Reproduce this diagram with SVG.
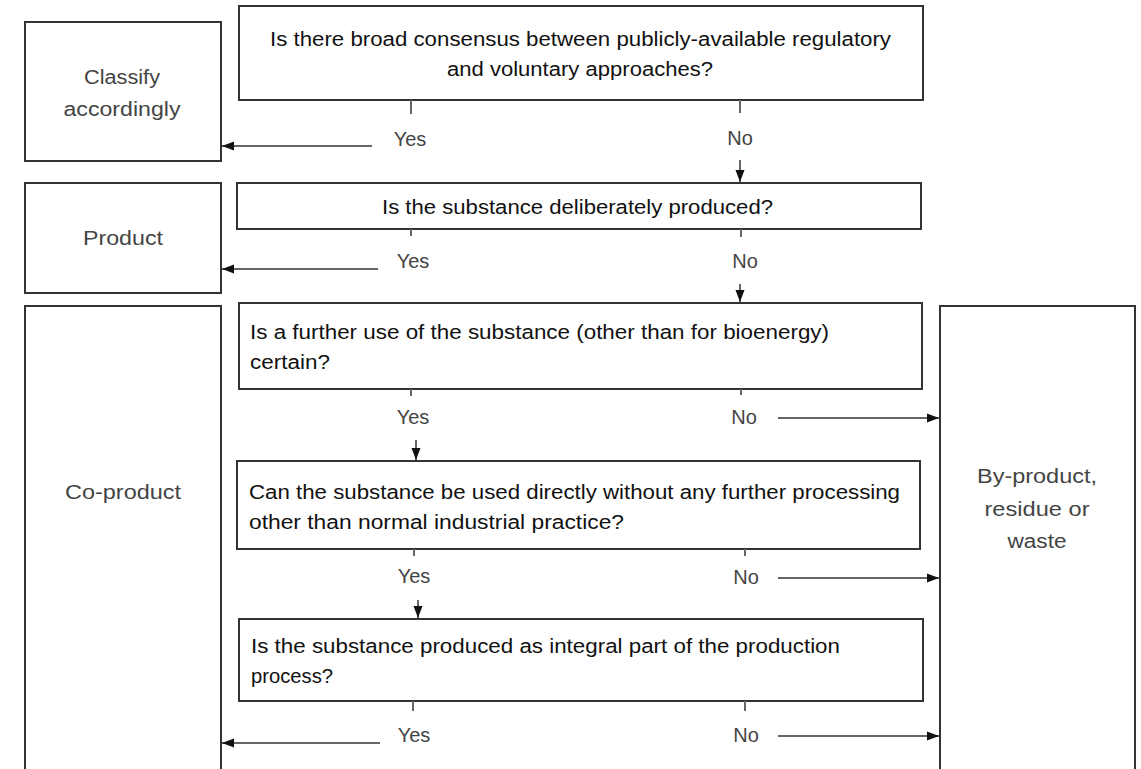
<svg xmlns="http://www.w3.org/2000/svg" width="1141" height="769" viewBox="0 0 1141 769">
<style>
.box{fill:#fff;stroke:#333;stroke-width:2}
.q{font-family:"Liberation Sans",Arial,sans-serif;font-size:20px;fill:#111}
.lbl{font-family:"Liberation Sans",Arial,sans-serif;font-size:20px;fill:#444;text-anchor:middle}
.yn{font-family:"Liberation Sans",Arial,sans-serif;font-size:20px;fill:#444;text-anchor:middle}
.ln{stroke:#666;stroke-width:2;fill:none}
.stub{stroke:#666;stroke-width:2}
</style>
<defs>
<marker id="ah" viewBox="0 0 12 10" refX="12" refY="5" markerWidth="12" markerHeight="10" markerUnits="userSpaceOnUse" orient="auto">
<path d="M0,0.5 L12,5 L0,9.5 Z" fill="#111"/>
</marker>
</defs>
<rect width="1141" height="769" fill="#fff"/>

<g id="classify">
<rect class="box" x="25" y="22" width="196" height="139"/>
<text class="lbl" x="122" y="84" textLength="76" lengthAdjust="spacingAndGlyphs">Classify</text>
<text class="lbl" x="122" y="116" textLength="117" lengthAdjust="spacingAndGlyphs">accordingly</text>
</g>
<g id="product">
<rect class="box" x="25" y="183" width="196" height="110"/>
<text class="lbl" x="123" y="245" textLength="80" lengthAdjust="spacingAndGlyphs">Product</text>
</g>
<g id="coproduct">
<rect class="box" x="25" y="306" width="196" height="470"/>
<text class="lbl" x="123" y="499" textLength="116" lengthAdjust="spacingAndGlyphs">Co-product</text>
</g>
<g id="byproduct">
<rect class="box" x="940" y="306" width="195" height="470"/>
<text class="lbl" x="1037" y="483" textLength="120" lengthAdjust="spacingAndGlyphs">By-product,</text>
<text class="lbl" x="1037" y="516" textLength="105" lengthAdjust="spacingAndGlyphs">residue or</text>
<text class="lbl" x="1037" y="548" textLength="59" lengthAdjust="spacingAndGlyphs">waste</text>
</g>

<g id="q1">
<rect class="box" x="239" y="6" width="684" height="94"/>
<text class="q" x="270" y="46" textLength="621" lengthAdjust="spacingAndGlyphs">Is there broad consensus between publicly-available regulatory</text>
<text class="q" x="447" y="76" textLength="266" lengthAdjust="spacingAndGlyphs">and voluntary approaches?</text>
</g>
<g id="q2">
<rect class="box" x="237" y="183" width="684" height="46"/>
<text class="q" x="382" y="214" textLength="391" lengthAdjust="spacingAndGlyphs">Is the substance deliberately produced?</text>
</g>
<g id="q3">
<rect class="box" x="239" y="303" width="683" height="86"/>
<text class="q" x="250" y="339" textLength="579" lengthAdjust="spacingAndGlyphs">Is a further use of the substance (other than for bioenergy)</text>
<text class="q" x="250" y="369" textLength="80" lengthAdjust="spacingAndGlyphs">certain?</text>
</g>
<g id="q4">
<rect class="box" x="237" y="461" width="683" height="88"/>
<text class="q" x="249" y="499" textLength="651" lengthAdjust="spacingAndGlyphs">Can the substance be used directly without any further processing</text>
<text class="q" x="249" y="529" textLength="375" lengthAdjust="spacingAndGlyphs">other than normal industrial practice?</text>
</g>
<g id="q5">
<rect class="box" x="239" y="619" width="684" height="82"/>
<text class="q" x="251" y="653" textLength="589" lengthAdjust="spacingAndGlyphs">Is the substance produced as integral part of the production</text>
<text class="q" x="251" y="683" textLength="82" lengthAdjust="spacingAndGlyphs">process?</text>
</g>

<g id="connectors">
<line class="stub" x1="411" y1="100" x2="411" y2="114"/>
<line class="stub" x1="740" y1="100" x2="740" y2="113"/>
<line class="stub" x1="411" y1="229" x2="411" y2="236"/>
<line class="stub" x1="741" y1="229" x2="741" y2="237"/>
<line class="stub" x1="411" y1="389" x2="411" y2="396"/>
<line class="stub" x1="741" y1="389" x2="741" y2="395"/>
<line class="stub" x1="414" y1="549" x2="414" y2="556"/>
<line class="stub" x1="745" y1="549" x2="745" y2="556"/>
<line class="stub" x1="413" y1="701" x2="413" y2="711"/>
<line class="stub" x1="745" y1="701" x2="745" y2="711"/>

<text class="yn" x="410" y="146">Yes</text>
<text class="yn" x="740" y="145">No</text>
<text class="yn" x="413" y="268">Yes</text>
<text class="yn" x="745" y="268">No</text>
<text class="yn" x="413" y="424">Yes</text>
<text class="yn" x="744" y="424">No</text>
<text class="yn" x="414" y="583">Yes</text>
<text class="yn" x="746" y="584">No</text>
<text class="yn" x="414" y="742">Yes</text>
<text class="yn" x="746" y="742">No</text>

<line class="ln" x1="372" y1="146" x2="222" y2="146" marker-end="url(#ah)"/>
<line class="ln" x1="378" y1="269" x2="222" y2="269" marker-end="url(#ah)"/>
<line class="ln" x1="380" y1="743" x2="222" y2="743" marker-end="url(#ah)"/>
<line class="ln" x1="740" y1="160" x2="740" y2="182" marker-end="url(#ah)"/>
<line class="ln" x1="740" y1="284" x2="740" y2="302" marker-end="url(#ah)"/>
<line class="ln" x1="416" y1="440" x2="416" y2="460" marker-end="url(#ah)"/>
<line class="ln" x1="418" y1="600" x2="418" y2="618" marker-end="url(#ah)"/>
<line class="ln" x1="778" y1="418" x2="939" y2="418" marker-end="url(#ah)"/>
<line class="ln" x1="778" y1="578" x2="939" y2="578" marker-end="url(#ah)"/>
<line class="ln" x1="778" y1="736" x2="939" y2="736" marker-end="url(#ah)"/>
</g>
</svg>
